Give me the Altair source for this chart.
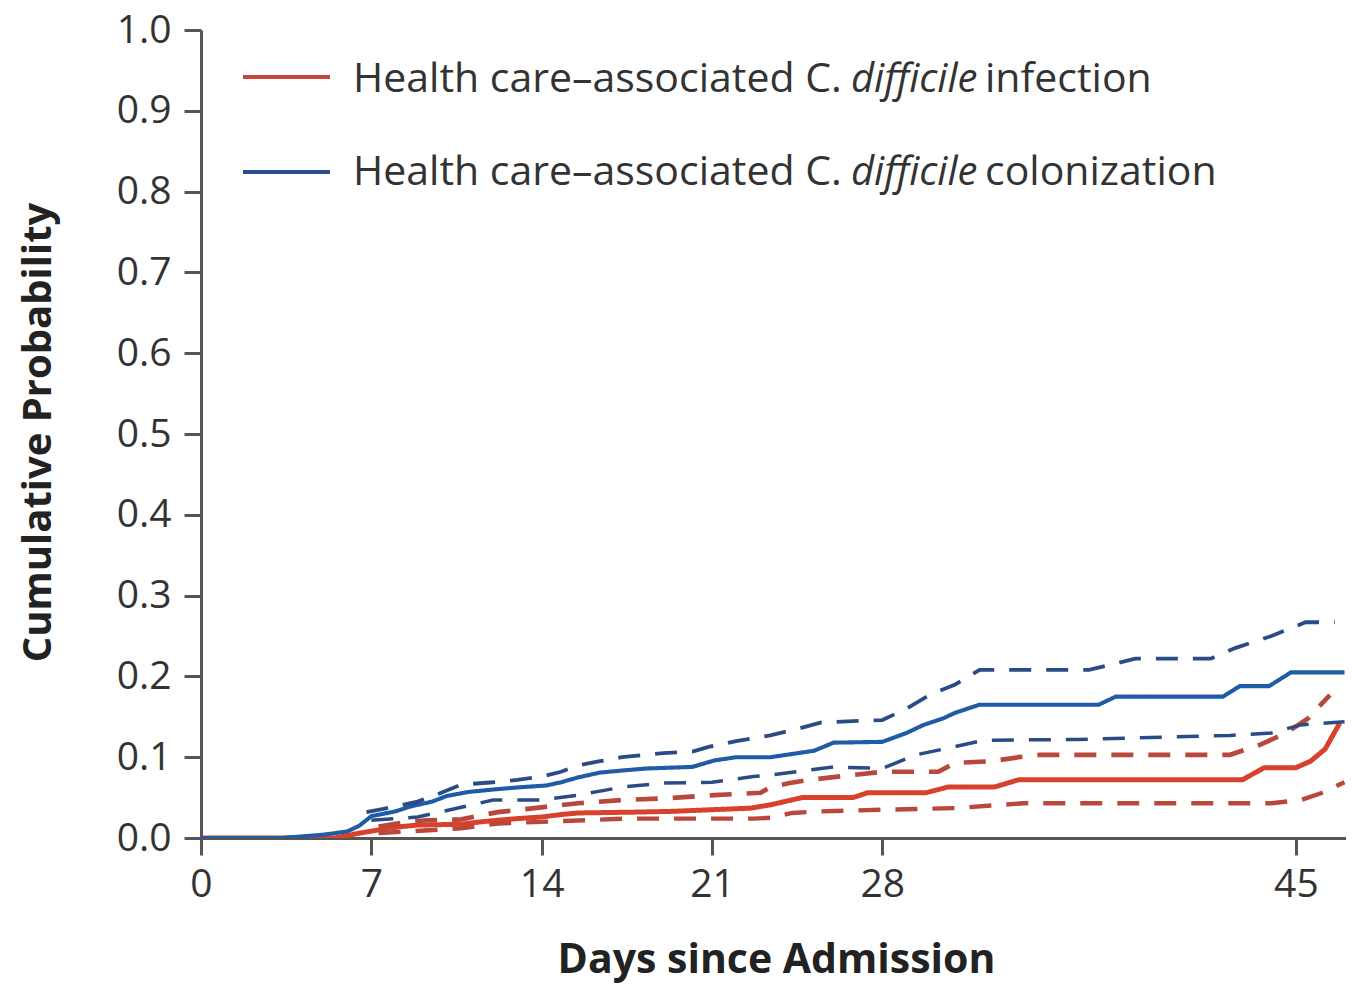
import altair as alt
import pandas as pd

# ---- data ----
inf_days = [0, 5.5, 6, 6.5, 7.3, 8.2, 8.9, 10.7, 11.5, 12.2, 13, 14, 14.8, 15.5, 17.8, 19.4, 21, 22.6, 23.4,
            24.7, 26.8, 27.4, 29.8, 30.7, 32.6, 33.6, 42.8, 43.7, 45, 45.6, 46.2, 46.8]
inf_vals = [0, 0, 0.003, 0.006, 0.01, 0.014, 0.016, 0.017, 0.02, 0.022, 0.024, 0.026, 0.029, 0.031, 0.032, 0.033, 0.035, 0.037, 0.041,
            0.05, 0.05, 0.056, 0.056, 0.063, 0.063, 0.072, 0.072, 0.087, 0.087, 0.095, 0.11, 0.142]

inf_up_days = [7.3, 8.5, 9.3, 10.7, 11.5, 12.2, 14, 15.5, 17.3, 19, 21.1, 23, 23.4, 24.2, 25, 28, 30.3, 31, 32.5, 33.6,
               34.5, 42.3, 43.5, 44.6, 45.5, 46.4]
inf_up_vals = [0.014, 0.02, 0.022, 0.023, 0.028, 0.032, 0.038, 0.043, 0.047, 0.049, 0.053, 0.056, 0.063, 0.068, 0.072, 0.082, 0.082, 0.093, 0.095, 0.1,
               0.103, 0.103, 0.115, 0.13, 0.148, 0.177]

inf_lo_days = [7.3, 10.7, 12.2, 14, 17.5, 22.7, 23.4, 24.3, 25.5, 28, 31, 33.8, 44, 45.2, 46, 47]
inf_lo_vals = [0.006, 0.012, 0.018, 0.02, 0.024, 0.024, 0.025, 0.031, 0.033, 0.035, 0.037, 0.043, 0.043, 0.047, 0.055, 0.069]

col_days = [0, 3.3, 5, 6, 6.5, 7, 8, 8.6, 9.5, 10.1, 11, 12, 13.2, 14.2, 14.8, 15.5, 16.4, 17.5, 18.3, 20.2, 21.1, 22, 23.4,
            24.3, 25.2, 26, 28, 29, 29.7, 30.5, 31, 32, 36.9, 37.6, 42, 42.7, 43.9, 44.8, 47]
col_vals = [0, 0, 0.004, 0.008, 0.015, 0.027, 0.033, 0.039, 0.045, 0.052, 0.057, 0.06, 0.063, 0.065, 0.069, 0.075, 0.081, 0.084, 0.086, 0.088, 0.096, 0.1, 0.1,
            0.104, 0.108, 0.118, 0.119, 0.13, 0.14, 0.148, 0.155, 0.165, 0.165, 0.175, 0.175, 0.188, 0.188, 0.205, 0.205]

col_up_days = [6.8, 7.5, 8.9, 9.8, 10.7, 12, 13, 14, 14.8, 15.5, 16.4, 17.3, 19, 20.2, 20.9, 22, 23.4, 24.5, 25.5, 28, 29, 30,
               31, 32, 36.5, 38.4, 41.5, 42.5, 44, 45.4, 46.6]
col_up_vals = [0.032, 0.036, 0.045, 0.055, 0.066, 0.069, 0.072, 0.076, 0.082, 0.09, 0.095, 0.1, 0.105, 0.107, 0.113, 0.12, 0.127, 0.135, 0.143, 0.146, 0.16, 0.178,
               0.19, 0.208, 0.208, 0.222, 0.222, 0.235, 0.25, 0.267, 0.267]

col_lo_days = [7, 8.9, 9.8, 10.7, 12, 14, 15.5, 16.4, 17.3, 19, 21, 22.7, 23.4, 26, 28, 29.4, 30.5, 32.2, 36, 42.3, 44, 45.2, 47]
col_lo_vals = [0.022, 0.026, 0.032, 0.038, 0.047, 0.047, 0.053, 0.058, 0.063, 0.068, 0.069, 0.076, 0.078, 0.088, 0.086, 0.103, 0.11, 0.121, 0.122, 0.127, 0.13, 0.14, 0.144]

x_ticks = [0, 7, 14, 21, 28, 45]
y_ticks = [0.0, 0.1, 0.2, 0.3, 0.4, 0.5, 0.6, 0.7, 0.8, 0.9, 1.0]

line_names = ["inf", "inf_up", "inf_lo", "col", "col_up", "col_lo"]
line_colors = ["#d8412b", "#b9473c", "#b9473c", "#1f5ba6", "#2a4c86", "#2a4c86"]
line_dash = [[1, 0], [22, 15], [22, 15], [1, 0], [22, 15], [22, 15]]
line_widths = [5, 3.5, 3.5, 5, 3.5, 3.5]

rows = []
for name, d, v in [("inf", inf_days, inf_vals), ("inf_up", inf_up_days, inf_up_vals), ("inf_lo", inf_lo_days, inf_lo_vals),
                   ("col", col_days, col_vals), ("col_up", col_up_days, col_up_vals), ("col_lo", col_lo_days, col_lo_vals)]:
    for i, (a, b) in enumerate(zip(d, v)):
        rows.append({"day": a, "p": b, "line": name, "order": i})
df = pd.DataFrame(rows)

FONT = "Open Sans"
TXT = "#333333"
AX = "#555555"
LEG_SIZE = 41

x_enc = alt.X("day:Q", scale=alt.Scale(domain=[0, 47.06], nice=False, zero=True),
              axis=alt.Axis(values=x_ticks, title="Days since Admission", grid=False, labelFlush=False,
                            labelPadding=10, titleFontSize=41,
                            titleX=575, titleY=134, titleBaseline="alphabetic", titleAlign="center"))
y_enc = alt.Y("p:Q", scale=alt.Scale(domain=[0, 1], nice=False),
              axis=alt.Axis(values=y_ticks, format=".1f", title="Cumulative Probability", grid=False,
                            labelFlush=False, labelPadding=13, titleFontSize=40,
                            titleX=-151, titleY=402, titleAngle=-90, titleBaseline="alphabetic", titleAlign="center"))

lines = alt.Chart(df).mark_line(clip=True).encode(
    x=x_enc,
    y=y_enc,
    color=alt.Color("line:N", scale=alt.Scale(domain=line_names, range=line_colors), legend=None),
    strokeDash=alt.StrokeDash("line:N", scale=alt.Scale(domain=line_names, range=line_dash), legend=None),
    strokeWidth=alt.StrokeWidth("line:N", scale=alt.Scale(domain=line_names, range=line_widths), legend=None),
    order="order:Q",
)

# ---- manual legend (mixed roman/italic text) ----
leg_labels = ["infection", "colonization"]
leg_colors = ["#c4473b", "#2a4f8a"]
leg_sw_y = [47, 142]
leg_base_y = [62, 155]

layers = [lines]
for lab, colr, sy, by in zip(leg_labels, leg_colors, leg_sw_y, leg_base_y):
    layers.append(alt.Chart(pd.DataFrame({"k": [0]})).mark_rule(color=colr, strokeWidth=4).encode(
        x=alt.value(42), x2=alt.value(129), y=alt.value(sy)))
    layers.append(alt.Chart(pd.DataFrame({"k": [0]})).mark_text(
        text="Health care\u2013associated C.", font=FONT, fontSize=LEG_SIZE, color=TXT, align="left", baseline="alphabetic"
    ).encode(x=alt.value(152), y=alt.value(by)))
    layers.append(alt.Chart(pd.DataFrame({"k": [0]})).mark_text(
        text="difficile", font=FONT, fontSize=40, fontStyle="italic", color=TXT, align="left", baseline="alphabetic"
    ).encode(x=alt.value(650), y=alt.value(by)))
    layers.append(alt.Chart(pd.DataFrame({"k": [0]})).mark_text(
        text=lab, font=FONT, fontSize=LEG_SIZE, color=TXT, align="left", baseline="alphabetic"
    ).encode(x=alt.value(784), y=alt.value(by)))

chart = alt.layer(*layers).properties(
    width=1145, height=808,
    autosize=alt.AutoSizeParams(type="none"),
    padding={"left": 193, "top": 22, "right": 0, "bottom": 146},
).configure_view(stroke=None).configure_axis(
    domainColor=AX, domainWidth=3, tickColor=AX, tickWidth=3, tickSize=17,
    labelFont=FONT, labelFontSize=39, labelColor=TXT,
    titleFont=FONT, titleFontWeight="bold", titleColor="#222222",
)

chart.save("out.html", embed_options={"renderer": "svg", "actions": False})
